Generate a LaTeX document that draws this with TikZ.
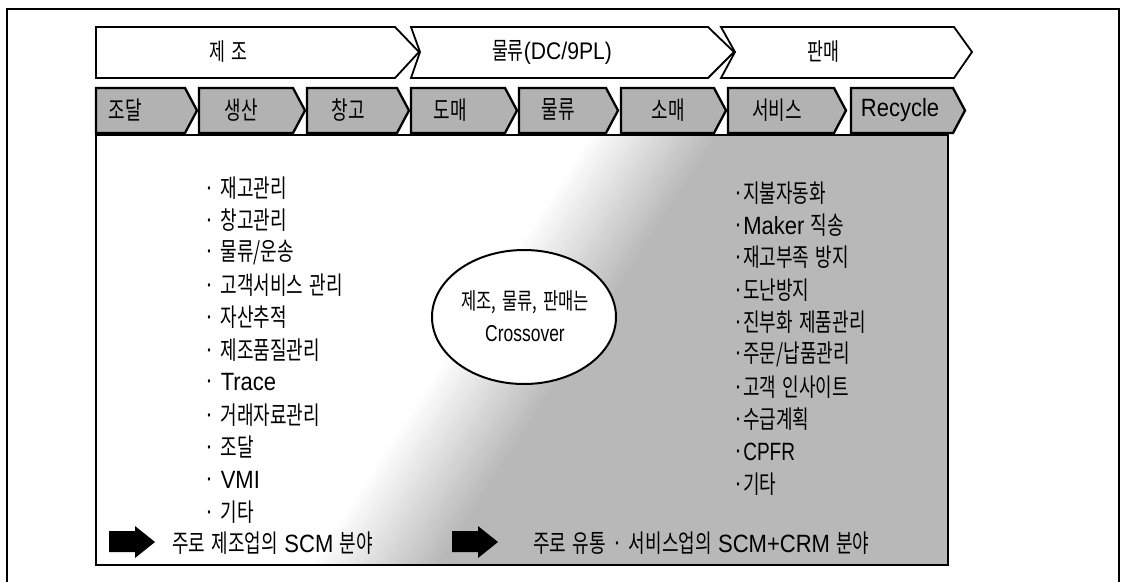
\documentclass[tikz,border=0pt]{standalone}
\usepackage{fontspec}
\setmainfont{Noto Sans CJK KR}[FakeStretch=0.72,WordSpace=1.6]
\newfontfamily\latfont{Liberation Sans}[FakeStretch=0.88]
\newfontfamily\latnfont{Liberation Sans}[FakeStretch=0.76]
\newcommand\latx[1]{{\latfont #1}}
\newcommand\latn[1]{{\latnfont #1}}
\usetikzlibrary{shapes.geometric}
\colorlet{shadegray}{black!28}
\colorlet{chevgray}{black!30}
\tikzset{
  lab/.style={inner sep=0pt, font=\fontsize{25}{25}\selectfont},
  toplab/.style={inner sep=0pt, font=\fontsize{24}{24}\selectfont},
  item/.style={lab, anchor=west},
  chevA/.style={draw=black, line width=1.8pt, fill=white, line join=miter},
  chevB/.style={draw=black, line width=2.3pt, fill=chevgray, line join=miter},
  frame/.style={draw=black, line width=1.3pt},
  inbox/.style={draw=black, line width=2pt},
  blockarrow/.style={fill=black},
}
\begin{document}
\begin{tikzpicture}[x=1pt,y=-1pt]
\path[use as bounding box] (0,0) rectangle (1124,581);
% outer frame
\draw[frame] (7,590) -- (7,9) -- (1119,9) -- (1119,590);
% shaded region inside the inner box
\begin{scope}
  \clip (96,135) rectangle (948,565);
  \fill[shadegray] (719,135) -- (1000,135) -- (1000,565) -- (439,565) -- cycle;
  \foreach \i in {0,...,25}{
    \pgfmathsetmacro\pc{28*(\i+0.5)/26}
    \fill[black!\pc] ({590+5*\i},135) -- ({595.7+5*\i},135) -- ({315.7+5*\i},565) -- ({310+5*\i},565) -- cycle;
  }
\end{scope}
\draw[inbox] (96,135) rectangle (948,565);
% row 1 chevrons
\draw[chevA] (96,27) -- (395,27) -- (419,52) -- (395,78) -- (96,78) -- cycle;
\draw[chevA] (411,27) -- (708,27) -- (734,52) -- (708,78) -- (411,78) -- (420,52) -- cycle;
\draw[chevA] (721,27) -- (954,27) -- (972,52) -- (954,78) -- (721,78) -- (735,52) -- cycle;
\node[toplab] (t1) at (228,52) {제 조};
\node[toplab] (t2) at (552,52) {물류\latx{(DC/9PL)}};
\node[toplab] (t3) at (823,52) {판매};
% row 2 chevrons
\foreach \a/\b in {96/197,199/305,307/409,411/517,519/618,621/726,728/846,851/965}{
  \draw[chevB] (\a,88) -- ({\b-12},88) -- (\b,110.5) -- ({\b-12},133) -- (\a,133) -- cycle;
}
\node[lab] (s1) at (125,110) {조달};
\node[lab] (s2) at (241,110) {생산};
\node[lab] (s3) at (348,110) {창고};
\node[lab] (s4) at (450,110) {도매};
\node[lab] (s5) at (558,110) {물류};
\node[lab] (s6) at (668,110) {소매};
\node[lab] (s7) at (777,110) {서비스};
\node[lab] (s8) at (900,110) {\latx{Recycle}};
% left list
\node[item] (l1) at (204,188) {· 재고관리};
\node[item] (l2) at (204,220.4) {· 창고관리};
\node[item] (l3) at (204,252.8) {· 물류/운송};
\node[item] (l4) at (204,285.2) {· 고객서비스 관리};
\node[item] (l5) at (204,317.6) {· 자산추적};
\node[item] (l6) at (204,350) {· 제조품질관리};
\node[item] (l7) at (204,382.4) {· \latx{Trace}};
\node[item] (l8) at (204,414.8) {· 거래자료관리};
\node[item] (l9) at (204,447.2) {· 조달};
\node[item] (l10) at (204,479.6) {· \latx{VMI}};
\node[item] (l11) at (204,512) {· 기타};
% right list
\node[item] (r1) at (733,193) {·지불자동화};
\node[item] (r2) at (733,225.3) {·\latx{Maker} 직송};
\node[item] (r3) at (733,257.6) {·재고부족 방지};
\node[item] (r4) at (733,289.9) {·도난방지};
\node[item] (r5) at (733,322.2) {·진부화 제품관리};
\node[item] (r6) at (733,354.5) {·주문/납품관리};
\node[item] (r7) at (733,386.8) {·고객 인사이트};
\node[item] (r8) at (733,419.1) {·수급계획};
\node[item] (r9) at (733,451.4) {·\latn{CPFR}};
\node[item] (r10) at (733,483.7) {·기타};
% ellipse
\node[ellipse, draw=black, line width=2pt, fill=white, minimum width=184pt, minimum height=134pt] (ell) at (524,317) {};
\node[inner sep=0pt, align=center, font=\fontsize{23}{32}\selectfont] (elltxt) at (525,316) {제조, 물류, 판매는\\\latn{Crossover}};
% bottom arrows and texts
\fill[blockarrow] (109,531) -- (135,531) -- (135,526) -- (155,542) -- (135,558) -- (135,552) -- (109,552) -- cycle;
\fill[blockarrow] (452,531) -- (478,531) -- (478,526) -- (498,542) -- (478,558) -- (478,552) -- (452,552) -- cycle;
\node[item] (b1) at (172,543) {주로 제조업의 \latx{SCM} 분야};
\node[item] (b2) at (533,543) {주로 유통 · 서비스업의 \latx{SCM+CRM} 분야};
\end{tikzpicture}
\end{document}
